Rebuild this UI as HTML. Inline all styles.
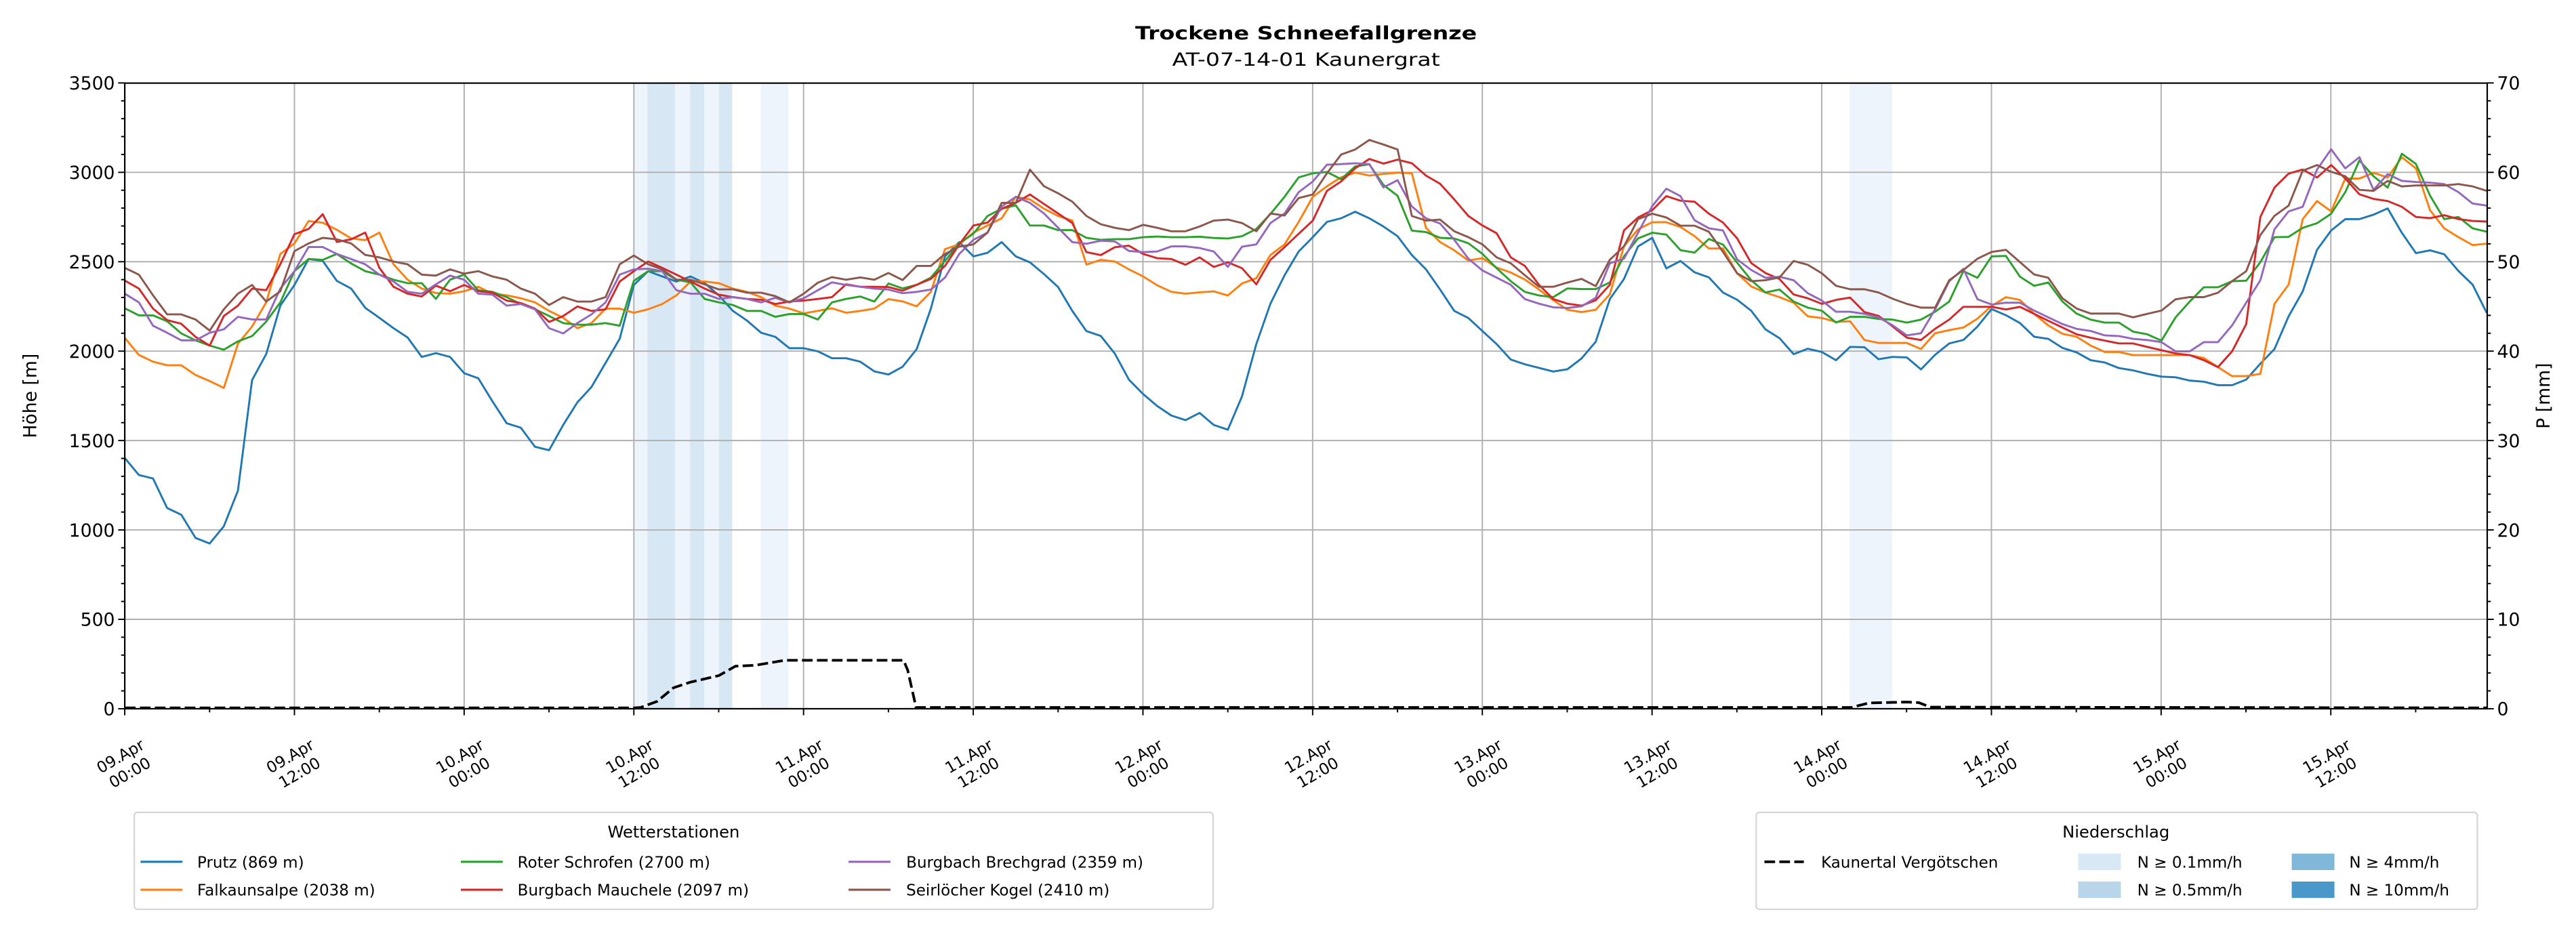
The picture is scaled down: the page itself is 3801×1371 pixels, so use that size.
<!DOCTYPE html>
<html><head><meta charset="utf-8"><style>
html,body{margin:0;padding:0;background:#fff;}
svg{display:block;font-family:"DejaVu Sans","Liberation Sans",sans-serif;}
</style></head><body>
<svg id="s" width="3801" height="1371" viewBox="0 0 1568 565.6" xmlns="http://www.w3.org/2000/svg"></svg>
<script>
const L=75.9,R=1514,T=50.6,B=431.5;
const vy=v=>B-v*0.10886;
const hx=h=>(184+h*20.87)/2.4241;
let o='';
const bands=[[385.7,394,'#eef4fb'],[394,410.9,'#d8e7f4'],[410.9,420,'#eef4fb'],[420,428.6,'#d8e7f4'],[428.6,437.6,'#eef4fb'],[437.6,445.7,'#d8e7f4'],[463,479.8,'#eef4fb'],[1125.8,1151.8,'#eef4fb']];
for(const b of bands)o+=`<rect x="${b[0]}" y="${T}" width="${b[1]-b[0]}" height="${B-T}" fill="${b[2]}"/>`;
const dx=103.3;
for(let i=0;i<=13;i++){const x=L+i*dx;if(x<R)o+=`<line x1="${x}" y1="${T}" x2="${x}" y2="${B}" stroke="#b0b0b0" stroke-width="0.8"/>`;}
for(let v=500;v<3500;v+=500)o+=`<line x1="${L}" y1="${vy(v)}" x2="${R}" y2="${vy(v)}" stroke="#b0b0b0" stroke-width="0.8"/>`;
const S={
'#1f77b4':[1403,1307,1288,1123,1085,955,924,1021,1220,1838,1983,2254,2370,2515,2505,2393,2350,2242,2186,2128,2076,1968,1989,1968,1877,1848,1720,1597,1572,1465,1446,1587,1713,1800,1935,2070,2370,2447,2418,2389,2418,2380,2312,2225,2171,2103,2080,2016,2016,1999,1960,1960,1941,1887,
1869,1913,2012,2238,2530,2610,2530,2550,2610,2530,2497,2431,2358,2225,2112,2085,1986,1840,1760,1693,1640,1614,1654,1587,1561,1747,2039,2265,2424,2557,2637,2723,2743,2780,2743,2697,2643,2537,2457,2344,2225,2185,2112,2039,1953,1926,1906,1886,1899,1959,2052,2291,
2403,2586,2634,2463,2504,2441,2412,2328,2287,2226,2122,2072,1983,2014,1995,1949,2024,2022,1955,1968,1965,1898,1980,2043,2062,2138,2235,
2201,2157,2081,2069,2018,1993,1949,1936,1905,1892,1873,1857,1854,1835,1829,1810,1810,1841,1930,2012,2195,2334,2567,2675,2738,2738,2763,2798,2662,2548,2564,2542,2448,2372,2214],
'#ff7f0e':[2074,1979,1941,1921,1921,1867,1833,1794,2041,2138,2273,2544,2602,2727,2718,2679,2631,2621,2663,2486,2399,2350,2325,2321,2335,2360,2321,2312,2296,2273,2225,2186,2128,2157,2238,2238,2215,2234,2263,2312,2389,2389,2380,2350,2331,2302,2254,2238,2211,2225,2240,2215,2225,2238,
2291,2278,2251,2331,2570,2597,2663,2703,2743,2863,2849,2796,2756,2730,2484,2511,2501,2457,2418,2368,2331,2321,2329,2334,2311,2378,2408,2537,2597,2723,2863,2922,2972,2998,2982,2991,2998,2995,2690,2610,2564,2507,2520,2467,2440,2400,2344,2285,2231,2218,2231,2318,
2586,2681,2721,2721,2694,2643,2574,2574,2435,2362,2328,2302,2271,2195,2185,2163,2167,2062,2046,2046,2046,2012,2100,2117,2132,2182,2252,
2302,2286,2208,2144,2097,2081,2031,1995,1995,1978,1978,1978,1978,1978,1961,1911,1860,1860,1873,2264,2372,2738,2839,2782,2965,2965,2997,2971,3085,3022,2788,2687,2637,2593,2601],
'#2ca02c':[2240,2200,2200,2167,2099,2060,2031,2008,2055,2084,2165,2273,2447,2515,2511,2544,2490,2447,2428,2399,2380,2380,2292,2399,2428,2341,2331,2302,2263,2234,2196,2157,2148,2148,2157,2142,2393,2447,2447,2399,2385,2292,2273,2258,2225,2225,2192,2207,2207,2177,2273,2292,2306,2277,
2378,2351,2371,2411,2504,2603,2657,2756,2796,2816,2703,2703,2677,2677,2634,2623,2626,2626,2637,2641,2637,2637,2640,2633,2630,2643,2683,2767,2863,2972,2995,3002,2962,3033,3045,2929,2869,2674,2666,2634,2630,2603,2544,2464,2391,2331,2311,2302,2351,2347,2347,2384,
2530,2631,2662,2652,2565,2551,2627,2596,2495,2397,2328,2344,2277,2243,2226,2160,2192,2192,2180,2176,2160,2176,2220,2277,2447,2410,2530,
2533,2416,2365,2384,2277,2210,2176,2160,2160,2109,2094,2059,2189,2277,2357,2357,2391,2394,2498,2637,2639,2690,2715,2769,2889,3066,2978,2915,3104,3047,2870,2738,2750,2687,2668],
'#d62728':[2395,2350,2238,2173,2153,2080,2031,2196,2254,2350,2341,2486,2654,2683,2766,2611,2625,2663,2466,2360,2321,2306,2366,2335,2370,2335,2327,2283,2269,2238,2163,2196,2250,2225,2234,2389,2447,2501,2466,2428,2389,2350,2316,2302,2292,2287,2263,2277,2283,2292,2302,2374,2360,2360,
2358,2338,2371,2404,2477,2597,2703,2719,2796,2829,2876,2823,2770,2716,2554,2537,2581,2590,2544,2520,2515,2483,2524,2471,2497,2464,2374,2511,2581,2657,2730,2896,2949,3022,3075,3049,3071,3051,2982,2936,2849,2756,2703,2659,2524,2477,2371,2291,2265,2254,2285,2371,
2675,2748,2788,2867,2841,2836,2769,2719,2631,2492,2437,2403,2317,2296,2264,2286,2299,2218,2197,2138,2075,2062,2125,2176,2248,2248,2248,
2233,2248,2208,2170,2132,2094,2075,2059,2043,2043,2024,2005,1987,1978,1949,1911,1999,2151,2750,2915,2993,3016,2971,3041,2965,2877,2851,2839,2807,2750,2744,2760,2738,2728,2725],
'#9467bd':[2321,2273,2142,2103,2060,2060,2103,2122,2192,2177,2177,2350,2447,2582,2582,2544,2515,2486,2428,2389,2331,2321,2374,2422,2399,2321,2316,2254,2263,2234,2128,2099,2157,2206,2273,2428,2457,2461,2447,2341,2321,2321,2292,2302,2292,2273,2298,2273,2296,2341,2385,2370,2360,2350,
2344,2324,2331,2344,2411,2544,2623,2663,2809,2863,2829,2770,2690,2610,2601,2617,2613,2560,2554,2557,2586,2586,2577,2557,2471,2584,2597,2716,2770,2889,2949,3042,3046,3051,3046,2916,2956,2809,2743,2714,2623,2517,2451,2411,2371,2291,2265,2245,2241,2251,2298,2491,
2517,2662,2811,2908,2867,2732,2687,2675,2513,2454,2410,2416,2397,2324,2283,2220,2220,2208,2189,2144,2088,2100,2233,2391,2460,2290,2261,
2271,2271,2227,2189,2151,2125,2113,2088,2084,2069,2062,2050,1999,1999,2050,2050,2144,2271,2397,2681,2782,2807,3016,3129,3022,3085,2902,2990,2952,2946,2942,2934,2889,2826,2814],
'#8c564b':[2466,2428,2312,2206,2206,2177,2115,2234,2321,2370,2277,2335,2559,2602,2634,2625,2602,2538,2524,2501,2486,2428,2422,2457,2433,2447,2418,2399,2350,2321,2258,2302,2277,2277,2302,2486,2534,2486,2457,2399,2399,2374,2345,2345,2327,2327,2308,2273,2321,2383,2414,2399,2412,2399,
2437,2398,2477,2477,2544,2584,2597,2663,2829,2829,3015,2922,2883,2836,2756,2710,2690,2677,2706,2690,2670,2670,2697,2730,2736,2716,2670,2770,2759,2856,2876,2995,3099,3128,3181,3155,3128,2756,2730,2736,2670,2637,2597,2524,2491,2424,2360,2360,2384,2404,2364,2511,
2586,2738,2769,2748,2702,2702,2668,2555,2435,2391,2397,2412,2504,2483,2435,2365,2346,2346,2328,2293,2264,2243,2243,2397,2454,2517,2555,
2567,2498,2429,2410,2296,2239,2210,2210,2210,2189,2208,2227,2290,2302,2302,2327,2391,2447,2649,2757,2814,3009,3041,3003,2978,2902,2896,2952,2921,2927,2927,2927,2934,2921,2896]
};
for(const c in S){const a=S[c];let p='';for(let i=0;i<a.length;i++)p+=(i?' ':'')+hx(i).toFixed(1)+','+vy(a[i]).toFixed(1);o+=`<polyline points="${p}" fill="none" stroke="${c}" stroke-width="1.2" stroke-linejoin="round"/>`;}
o+=`<polyline points="76,431 386,431 390,430.7 400,427 410,418.7 420,415.4 437.6,411.3 447.6,405.6 460,405 477.6,402 550,402 552.5,408 557.6,430.7 1127,430.7 1137.5,428 1161,427.4 1168,427.8 1175,430.5 1514,431" fill="none" stroke="#000" stroke-width="1.6" stroke-dasharray="6.5,2.6"/>`;
o+=`<rect x="${L}" y="${T}" width="${R-L}" height="${B-T}" fill="none" stroke="#000" stroke-width="0.9"/>`;
for(let v=0;v<=3500;v+=100){const y=vy(v),maj=v%500==0;o+=`<line x1="${L-(maj?4:2.2)}" y1="${y}" x2="${L}" y2="${y}" stroke="#000" stroke-width="0.8"/>`;if(maj)o+=`<text x="${L-6}" y="${y+4}" font-size="11" text-anchor="end">${v}</text>`;}
for(let m=0;m<=70;m+=2){const y=vy(m*50),maj=m%10==0;o+=`<line x1="${R}" y1="${y}" x2="${R+(maj?4:2.2)}" y2="${y}" stroke="#000" stroke-width="0.8"/>`;if(maj)o+=`<text x="${R+6}" y="${y+4}" font-size="11">${m}</text>`;}
const labs=['09.Apr|00:00','09.Apr|12:00','10.Apr|00:00','10.Apr|12:00','11.Apr|00:00','11.Apr|12:00','12.Apr|00:00','12.Apr|12:00','13.Apr|00:00','13.Apr|12:00','14.Apr|00:00','14.Apr|12:00','15.Apr|00:00','15.Apr|12:00'];
for(let i=0;i<28;i++){const x=L+i*dx/2;if(x>R)break;const maj=i%2==0;o+=`<line x1="${x}" y1="${B}" x2="${x}" y2="${B+(maj?4:2.2)}" stroke="#000" stroke-width="0.8"/>`;
if(maj){const t=labs[i/2].split('|');o+=`<g transform="translate(${x},465) rotate(-30)"><text font-size="9.5" text-anchor="middle"><tspan x="0" y="-2">${t[0]}</tspan><tspan x="0" y="9.5">${t[1]}</tspan></text></g>`;}}
o+=`<text transform="translate(22,241) rotate(-90)" font-size="11" text-anchor="middle">Höhe [m]</text>`;
o+=`<text transform="translate(1552,241) rotate(-90)" font-size="11" text-anchor="middle">P [mm]</text>`;
o+=`<text x="795" y="24" font-size="11" font-weight="bold" text-anchor="middle" textLength="208" lengthAdjust="spacingAndGlyphs">Trockene Schneefallgrenze</text>`;
o+=`<text x="795" y="40" font-size="11" text-anchor="middle" textLength="163" lengthAdjust="spacingAndGlyphs">AT-07-14-01 Kaunergrat</text>`;
o+=`<rect x="81.7" y="494.6" width="656.7" height="59" rx="2" fill="#fff" stroke="#d5d5d5" stroke-width="0.9"/>`;
o+=`<text x="410" y="510" font-size="10" text-anchor="middle">Wetterstationen</text>`;
const L1=[[85.5,120,524.7,'#1f77b4','Prutz (869 m)'],[85.5,120,541.7,'#ff7f0e','Falkaunsalpe (2038 m)'],[280.5,315,524.7,'#2ca02c','Roter Schrofen (2700 m)'],[280.5,315,541.7,'#d62728','Burgbach Mauchele (2097 m)'],[516.5,551.6,524.7,'#9467bd','Burgbach Brechgrad (2359 m)'],[516.5,551.6,541.7,'#8c564b','Seirlöcher Kogel (2410 m)']];
for(const e of L1){o+=`<line x1="${e[0]}" y1="${e[2]}" x2="${e[0]+25.5}" y2="${e[2]}" stroke="${e[3]}" stroke-width="1.3"/><text x="${e[1]}" y="${e[2]+3.5}" font-size="9.5">${e[4]}</text>`;}
o+=`<rect x="1069" y="494.6" width="439" height="59" rx="2" fill="#fff" stroke="#d5d5d5" stroke-width="0.9"/>`;
o+=`<text x="1288" y="510" font-size="10" text-anchor="middle">Niederschlag</text>`;
o+=`<line x1="1074" y1="524.7" x2="1098" y2="524.7" stroke="#000" stroke-width="1.6" stroke-dasharray="6.5,2.6"/><text x="1108.5" y="528.2" font-size="9.5">Kaunertal Vergötschen</text>`;
const L2=[[1265,1301,524.7,'#d9e8f5','N ≥ 0.1mm/h'],[1265,1301,541.7,'#b8d5ea','N ≥ 0.5mm/h'],[1395,1430,524.7,'#81b8da','N ≥ 4mm/h'],[1395,1430,541.7,'#4a98c9','N ≥ 10mm/h']];
for(const e of L2){o+=`<rect x="${e[0]}" y="${e[2]-5}" width="26" height="10" fill="${e[3]}"/><text x="${e[1]}" y="${e[2]+3.5}" font-size="9.5">${e[4]}</text>`;}
document.getElementById('s').innerHTML=o;
</script>
</body></html>
